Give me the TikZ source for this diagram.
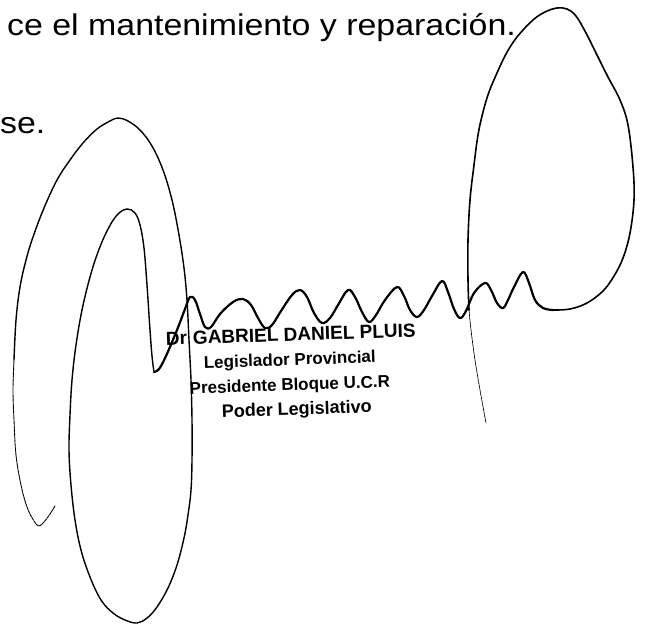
\documentclass[tikz,border=0pt]{standalone}
\usepackage{fontspec}
\usepackage{graphicx}
\setmainfont{Liberation Sans}
\begin{document}
\begin{tikzpicture}[x=1pt,y=-1pt,
  sig/.style={line width=1.4pt,line cap=round,line join=round},
  faint/.style={line width=0.9pt,line cap=round,line join=round,dash pattern=on 3pt off 0.8pt},
  wavestroke/.style={line width=2.2pt,line cap=round,line join=round},
  bodytext/.style={inner sep=0pt,font=\fontsize{30}{36}\selectfont},
  stamp/.style={inner sep=0pt,anchor=base,rotate=2,font=\bfseries\fontsize{17}{20}\selectfont}]
\useasboundingbox (0,0) rectangle (645,624);
% document text
\node[bodytext,anchor=base west] (line1) at (7,35) {\scalebox{1.13}[1]{ce el mantenimiento y reparación.}};
\node[bodytext,anchor=base west] (line2) at (0,133) {\scalebox{1.13}[1]{se.}};
% stamp
\node[stamp,font=\bfseries\fontsize{19}{22}\selectfont] (s1) at (291,341) {Dr\hspace{6pt}GABRIEL DANIEL PLUIS};
\node[stamp] (s2) at (290,365.5) {Legislador Provincial};
\node[stamp] (s3) at (290,390.5) {Presidente Bloque U.C.R};
\node[stamp,font=\bfseries\fontsize{18}{20}\selectfont] (s4) at (297,415) {Poder Legislativo};
% signature: faint hook and lower outer side
\draw[faint] plot[smooth,tension=0.6] coordinates {(55,506) (50,514) (44,522) (39,526) (34,521) (27,507) (21,485) (16,455) (14,420) (13,390) (14,360)};
% outer arch and inner loop
\draw[sig] plot[smooth,tension=0.6] coordinates {(14,360) (16,320) (20,287) (26,260) (33,237) (44,208) (57,180) (70,160) (83,143) (97,129) (110,121) (118,118) (128,121) (140,130) (152,146) (163,170) (172,200) (179,235) (184,268) (187,300) (189,340) (191,380) (192,420) (192,460) (191,490) (188,515) (184,538) (177,565) (168,588) (157,607) (147,618) (137,623) (125,620) (113,613) (101,600) (90,577) (81,550) (75,520) (71,485) (69,450) (70,415) (72,380) (76,345) (82,310) (90,277) (98,252) (107,231) (117,215) (127,209) (135,213) (140,225) (144,248) (147,285) (150,330) (152,356) (154,372)};
% wave
\draw[wavestroke] plot[smooth,tension=0.6] coordinates {(154,372) (159,369) (166,356) (177,330) (185,309) (190,297) (195,300) (200,314) (205,327) (211,327) (220,314) (233,302) (243,299) (251,305) (258,318) (265,328) (272,325) (281,311) (292,295) (300,290) (307,297) (314,313) (322,323) (330,318) (338,305) (348,290) (355,297) (362,312) (369,322) (376,315) (385,300) (397,287) (404,296) (410,310) (417,317) (424,310) (432,296) (442,281) (448,292) (454,309) (460,318) (466,311) (474,293) (485,283) (491,290) (497,303) (503,308) (508,300) (514,287) (523,272) (529,283) (535,300) (543,308) (553,310)};
% right loop
\draw[sig,line width=1.6pt] plot[smooth,tension=0.6] coordinates {(553,310) (570,309) (587,303) (603,291) (614,276) (623,258) (630,233) (634,200) (633,167) (628,125) (620,100) (608,77) (597,55) (586,33) (576,16) (567,9) (557,8) (545,12) (533,20) (517,37) (506,54) (497,73) (489,92) (483,112) (478,135) (474,165) (470,200) (468,240) (468,280) (469,310)};
% faint tail
\draw[faint,line width=0.7pt] plot[smooth,tension=0.6] coordinates {(469,310) (471,330) (475,360) (480,390) (486,423)};
\end{tikzpicture}
\end{document}
